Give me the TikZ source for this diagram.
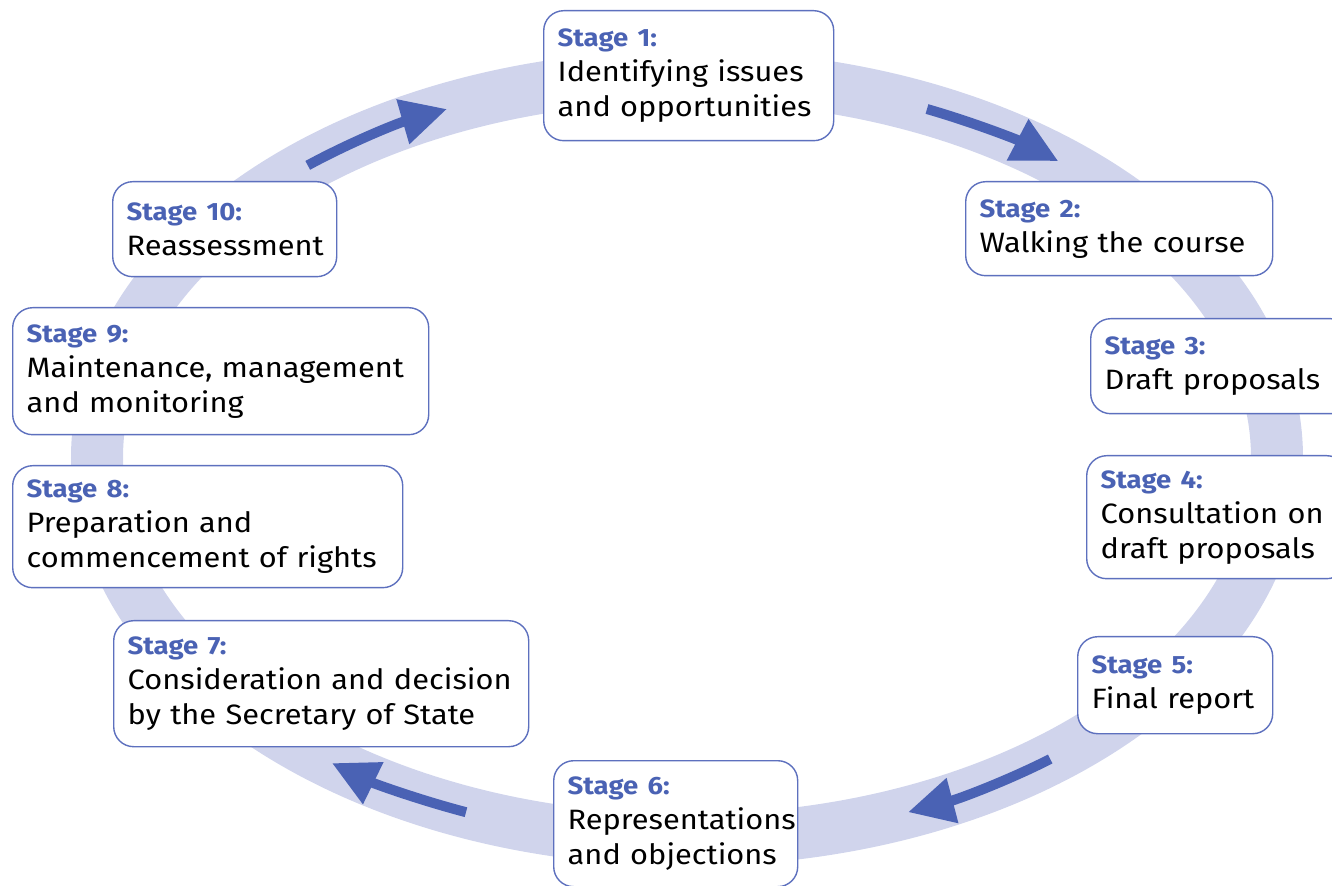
\documentclass[tikz,border=0pt]{standalone}
\usepackage{fontspec}
\setmainfont{Fira Sans}[FakeStretch=1.1]
\usetikzlibrary{arrows.meta}
\definecolor{ringcol}{HTML}{D0D4EC}
\definecolor{arrowcol}{HTML}{4A62B4}
\definecolor{framecol}{HTML}{5D70BE}
\newcommand{\stagetext}[2]{{\fontsize{12.5}{17.5}\selectfont\textcolor{arrowcol}{\textbf{Stage #1:}}}\\#2}
\tikzset{
  stagebox/.style 2 args={draw=framecol, line width=0.7pt, rounded corners=10pt, fill=white,
    anchor=north west, align=left, inner xsep=7pt, inner ysep=0pt,
    text width=#1, minimum height=#2, font=\fontsize{14}{17.5}\selectfont},
  flow/.style={draw=arrowcol, line width=5pt, -{Triangle[length=23pt,width=22pt]}}
}

\begin{document}
\begin{tikzpicture}[x=0.5pt,y=-0.5pt]
  \useasboundingbox (0,0) rectangle (1332,886);
  \clip (0,0) rectangle (1332,886);
  \coordinate (c) at (687,458);
  \draw[ringcol,line width=26pt] (c) ellipse [x radius=590, y radius=382];
  \draw[flow] (c) ++(-130:590 and 382) arc[start angle=-130, end angle=-114, x radius=590, y radius=382];
  \draw[flow] (c) ++(-66:590 and 382) arc[start angle=-66, end angle=-51, x radius=590, y radius=382];
  \draw[flow] (c) ++(52:590 and 382) arc[start angle=52, end angle=68, x radius=590, y radius=382];
  \draw[flow] (c) ++(112:590 and 382) arc[start angle=112, end angle=127, x radius=590, y radius=382];

  \node[stagebox={131pt}{65pt}] (s1) at (543,10) {\stagetext{1}{Identifying issues\\and opportunities}};
  \node[stagebox={139.5pt}{47pt}] (s2) at (965,181) {\stagetext{2}{Walking the course}};
  \node[stagebox={116pt}{47.5pt}] (s3) at (1090,318) {\stagetext{3}{Draft proposals}};
  \node[stagebox={116pt}{61.5pt}] (s4) at (1086,455) {\stagetext{4}{Consultation on\\draft proposals}};
  \node[stagebox={83.5pt}{48.5pt}] (s5) at (1077,636) {\stagetext{5}{Final report}};
  \node[stagebox={108pt}{63pt}] (s6) at (553,760) {\stagetext{6}{Representations\\and objections}};
  \node[stagebox={193.5pt}{63pt}] (s7) at (113,620) {\stagetext{7}{Consideration and decision\\by the Secretary of State}};
  \node[stagebox={181pt}{61pt}] (s8) at (12,465) {\stagetext{8}{Preparation and\\commencement of rights}};
  \node[stagebox={194pt}{63.5pt}] (s9) at (12,307) {\stagetext{9}{Maintenance, management\\and monitoring}};
  \node[stagebox={98pt}{47.5pt}] (s10) at (112,181) {\stagetext{10}{Reassessment}};
\end{tikzpicture}
\end{document}
